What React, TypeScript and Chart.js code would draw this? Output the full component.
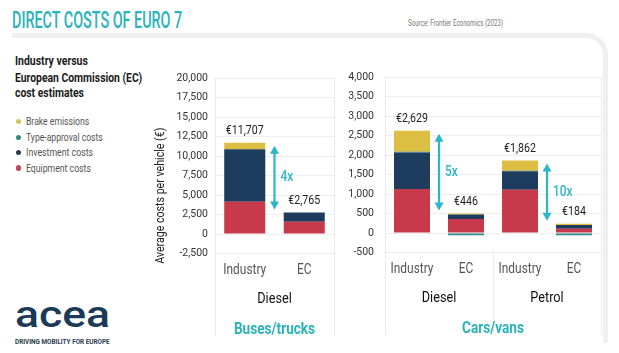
import React, { useEffect, useLayoutEffect, useRef, useState } from 'react';
import { Chart, registerables } from 'chart.js';

Chart.register(...registerables);

// ---------- data ----------
const SERIES_LABELS = ['Equipment costs', 'Investment costs', 'Type-approval costs', 'Brake emissions'];
const BAR_COLORS = ['#c8394b', '#1e3d5e', '#2c8a80', '#dcbf42'];
const LEGEND_LABELS = ['Brake emissions', 'Type-approval costs', 'Investment costs', 'Equipment costs'];
const LEGEND_COLORS = ['#d6c35c', '#2e8a7e', '#243a50', '#c4455c'];

const BUS_CATEGORIES = ['Industry', 'EC'];
const BUS_GROUPS = ['Diesel'];
const BUS_TITLE = 'Buses/trucks';
const BUS_EQUIPMENT = [4120, 1560];
const BUS_INVESTMENT = [6730, 1205];
const BUS_TYPE_APPROVAL = [0, 0];
const BUS_BRAKE = [857, 0];
const BUS_RATIOS = ['4x'];
const BUS_Y = { min: -2500, max: 20000, step: 2500 };

const CAR_CATEGORIES = ['Industry', 'EC', 'Industry', 'EC'];
const CAR_GROUPS = ['Diesel', 'Petrol'];
const CAR_TITLE = 'Cars/vans';
const CAR_EQUIPMENT = [1130, 360, 1110, 110];
const CAR_INVESTMENT = [940, 115, 480, 95];
const CAR_TYPE_APPROVAL = [20, -54, 10, -56];
const CAR_BRAKE = [539, 25, 262, 35];
const CAR_RATIOS = ['5x', '10x'];
const CAR_Y = { min: -500, max: 4000, step: 500 };

const Y_AXIS_TITLE = 'Average costs per vehicle (€)';
const TEAL = '#2bb3bb';
const ARROW = '#2ab7c9';

// ---------- helpers ----------
function txt(ctx: any, s: string, x: number, y: number, font: string, color: string, align = 'center', sx = 0.85) {
  ctx.save();
  ctx.font = font;
  ctx.fillStyle = color;
  ctx.textAlign = align;
  ctx.textBaseline = 'middle';
  ctx.translate(x, y);
  ctx.scale(sx, 1);
  ctx.fillText(s, 0, 0);
  ctx.restore();
}

const annot = {
  id: 'annot',
  beforeDatasetsDraw(chart: any, _a: any, o: any) {
    const { ctx, chartArea: ca, scales } = chart;
    const x = scales.x;
    ctx.save();
    ctx.strokeStyle = '#ebebeb';
    ctx.lineWidth = 1;
    const line = (px: number, y0: number, y1: number) => {
      ctx.beginPath();
      ctx.moveTo(Math.round(px) + 0.5, y0);
      ctx.lineTo(Math.round(px) + 0.5, y1);
      ctx.stroke();
    };
    line(ca.left, ca.top, ca.bottom + 82);
    line(ca.right, ca.top, ca.bottom + 82);
    for (let j = 1; j < o.groups.length; j++) {
      line((x.getPixelForValue(2 * j - 1) + x.getPixelForValue(2 * j)) / 2, ca.bottom, ca.bottom + 82);
    }
    ctx.restore();
  },
  afterDatasetsDraw(chart: any, _a: any, o: any) {
    const { ctx, chartArea: ca, scales } = chart;
    const x = scales.x;
    const y = scales.y;
    const labels: string[] = chart.data.labels;
    const meta = chart.getDatasetMeta(0);
    const posTop: number[] = [];
    labels.forEach((lab, i) => {
      let tot = 0;
      let pos = 0;
      chart.data.datasets.forEach((d: any) => {
        const v = d.data[i];
        tot += v;
        if (v > 0) pos += v;
      });
      posTop.push(y.getPixelForValue(pos));
      const bx = meta.data[i].x;
      txt(ctx, '€' + tot.toLocaleString('en-US'), bx, y.getPixelForValue(pos) - 12, '400 12.5px Roboto', '#222');
      txt(ctx, lab, bx, ca.bottom + 16.5, '400 14px Roboto', '#555');
    });
    // arrows
    o.ratios.forEach((r: string, j: number) => {
      const a = 2 * j;
      const b = 2 * j + 1;
      const ax = (meta.data[a].x + meta.data[b].x) / 2;
      const y0 = posTop[a] + 3;
      const y1 = posTop[b] - 3;
      const hl = 8;
      const hw = 4.5;
      ctx.save();
      ctx.strokeStyle = ARROW;
      ctx.fillStyle = ARROW;
      ctx.lineWidth = 2.2;
      ctx.beginPath();
      ctx.moveTo(ax, y0 + hl - 1);
      ctx.lineTo(ax, y1 - hl + 1);
      ctx.stroke();
      ctx.beginPath();
      ctx.moveTo(ax, y0);
      ctx.lineTo(ax - hw, y0 + hl);
      ctx.lineTo(ax + hw, y0 + hl);
      ctx.closePath();
      ctx.fill();
      ctx.beginPath();
      ctx.moveTo(ax, y1);
      ctx.lineTo(ax - hw, y1 - hl);
      ctx.lineTo(ax + hw, y1 - hl);
      ctx.closePath();
      ctx.fill();
      ctx.restore();
      txt(ctx, r, ax + 6, (y0 + y1) / 2, '500 14px Roboto', ARROW, 'left', 0.85);
    });
    // group labels
    o.groups.forEach((g: string, j: number) => {
      const gx = (x.getPixelForValue(2 * j) + x.getPixelForValue(2 * j + 1)) / 2;
      txt(ctx, g, gx, ca.bottom + 45.5, '400 15.5px Roboto', '#111', 'center', 0.82);
    });
    txt(ctx, o.title, (ca.left + ca.right) / 2, ca.bottom + 76, '700 17px Roboto', TEAL, 'center', 0.8);
    if (o.axisTitle) {
      ctx.save();
      ctx.translate(y.left + 11, (ca.top + ca.bottom) / 2 + 30);
      ctx.rotate(-Math.PI / 2);
      ctx.font = '400 12.5px Roboto';
      ctx.fillStyle = '#222';
      ctx.textAlign = 'center';
      ctx.textBaseline = 'middle';
      ctx.scale(0.85, 1);
      ctx.fillText(o.axisTitle, 0, 0);
      ctx.restore();
    }
  },
};

type P = {
  categories: string[];
  groups: string[];
  title: string;
  ratios: string[];
  series: number[][];
  yr: { min: number; max: number; step: number };
  axisW: number;
  padTop: number;
  padRight: number;
  xAxisH: number;
  tickPad: number;
  barPct: number;
  axisTitle?: string;
};

function makeConfig(p: P): any {
  return {
    type: 'bar',
    data: {
      labels: p.categories,
      datasets: p.series.map((d, i) => ({
        label: SERIES_LABELS[i],
        data: d,
        backgroundColor: BAR_COLORS[i],
        borderWidth: 0,
      })),
    },
    options: {
      animation: false,
      responsive: false,
      maintainAspectRatio: false,
      layout: { padding: { top: p.padTop, right: p.padRight, left: 0, bottom: 0 } },
      datasets: { bar: { barPercentage: p.barPct, categoryPercentage: 1 } },
      plugins: {
        legend: { display: false },
        tooltip: { enabled: false },
        annot: { groups: p.groups, ratios: p.ratios, title: p.title, axisTitle: p.axisTitle },
      },
      scales: {
        x: {
          stacked: true,
          grid: { display: false },
          border: { display: false },
          ticks: { display: false },
          afterFit: (s: any) => {
            s.height = p.xAxisH;
          },
        },
        y: {
          stacked: true,
          min: p.yr.min,
          max: p.yr.max,
          ticks: {
            stepSize: p.yr.step,
            padding: p.tickPad,
            color: '#333',
            font: { size: 10.5, family: 'Roboto' },
            callback: (v: any) => Number(v).toLocaleString('en-US'),
          },
          grid: { color: '#eeeeee', drawTicks: false },
          border: { display: false },
          afterFit: (s: any) => {
            s.width = p.axisW;
          },
        },
      },
    },
    plugins: [annot],
  };
}

function ChartBox({ left, top, width, height, p }: { left: number; top: number; width: number; height: number; p: P }) {
  const ref = useRef<HTMLCanvasElement>(null);
  useEffect(() => {
    if (!ref.current) return;
    const c = new Chart(ref.current, makeConfig(p));
    let alive = true;
    (document as any).fonts?.ready?.then(() => {
      if (alive) c.update();
    });
    return () => {
      alive = false;
      c.destroy();
    };
  }, []);
  return (
    <canvas
      ref={ref}
      width={width}
      height={height}
      style={{ position: 'absolute', left, top, width, height }}
    />
  );
}

function T({ x, cy, w, size, weight = 400, color, children }: any) {
  const ref = useRef<HTMLSpanElement>(null);
  const [s, setS] = useState(1);
  useLayoutEffect(() => {
    const m = () => {
      const el = ref.current;
      if (el && el.offsetWidth) setS(w / el.offsetWidth);
    };
    m();
    (document as any).fonts?.ready?.then(m);
  }, [w]);
  const lh = Math.round(size * 1.3);
  return (
    <span
      ref={ref}
      style={{
        position: 'absolute',
        left: x,
        top: cy - lh / 2,
        fontSize: size,
        lineHeight: lh + 'px',
        fontWeight: weight,
        color,
        whiteSpace: 'nowrap',
        fontFamily: 'Roboto',
        transform: `scaleX(${s})`,
        transformOrigin: '0 50%',
      }}
    >
      {children}
    </span>
  );
}

const LEGEND_Y = [121.7, 137.3, 152.7, 168];
const LEGEND_W = [63, 77, 67, 65];

export default function App() {
  const bus: P = {
    categories: BUS_CATEGORIES,
    groups: BUS_GROUPS,
    title: BUS_TITLE,
    ratios: BUS_RATIOS,
    series: [BUS_EQUIPMENT, BUS_INVESTMENT, BUS_TYPE_APPROVAL, BUS_BRAKE],
    yr: BUS_Y,
    axisW: 65,
    padTop: 18,
    padRight: 6,
    xAxisH: 91.5,
    tickPad: 7,
    barPct: 0.69,
    axisTitle: Y_AXIS_TITLE,
  };
  const car: P = {
    categories: CAR_CATEGORIES,
    groups: CAR_GROUPS,
    title: CAR_TITLE,
    ratios: CAR_RATIOS,
    series: [CAR_EQUIPMENT, CAR_INVESTMENT, CAR_TYPE_APPROVAL, CAR_BRAKE],
    yr: CAR_Y,
    axisW: 55,
    padTop: 17,
    padRight: 9,
    xAxisH: 92.5,
    tickPad: 11,
    barPct: 0.667,
  };
  return (
    <div
      style={{
        position: 'fixed',
        left: 0,
        top: 0,
        width: 619,
        height: 353,
        background: '#fff',
        overflow: 'hidden',
        fontFamily: 'Roboto',
      }}
    >
      <div
        style={{
          position: 'absolute',
          left: 12,
          top: 33,
          width: 591,
          height: 305,
          borderTop: '5px solid #efefef',
          borderRight: '5px solid #efefef',
          borderTopRightRadius: 22,
        }}
      />
      <T x={12} cy={20} w={170} size={24} weight={500} color={TEAL}>
        DIRECT COSTS OF EURO 7
      </T>
      <T x={408} cy={23} w={95} size={9.5} color="#777">
        Source: Frontier Economics (2023)
      </T>
      <T x={15} cy={61} w={73} size={12.5} weight={700} color="#1a1a1a">
        Industry versus
      </T>
      <T x={15} cy={77.5} w={127} size={12.5} weight={700} color="#1a1a1a">
        European Commission (EC)
      </T>
      <T x={15} cy={92.5} w={69} size={12.5} weight={700} color="#1a1a1a">
        cost estimates
      </T>
      {LEGEND_LABELS.map((l, i) => (
        <React.Fragment key={l}>
          <div
            style={{
              position: 'absolute',
              left: 15.5,
              top: LEGEND_Y[i] - 2.75,
              width: 5.5,
              height: 5.5,
              borderRadius: '50%',
              background: LEGEND_COLORS[i],
            }}
          />
          <T x={26} cy={LEGEND_Y[i]} w={LEGEND_W[i]} size={11.5} color="#555">
            {l}
          </T>
        </React.Fragment>
      ))}
      <T x={15} cy={314.7} w={95} size={37} weight={500} color="#1b3a57">
        acea
      </T>
      <T x={15} cy={341.7} w={95} size={6.5} weight={700} color="#2a3b4c">
        DRIVING MOBILITY FOR EUROPE
      </T>
      <ChartBox left={150} top={60} width={190} height={285} p={bus} />
      <ChartBox left={330} top={60} width={280} height={285} p={car} />
    </div>
  );
}
